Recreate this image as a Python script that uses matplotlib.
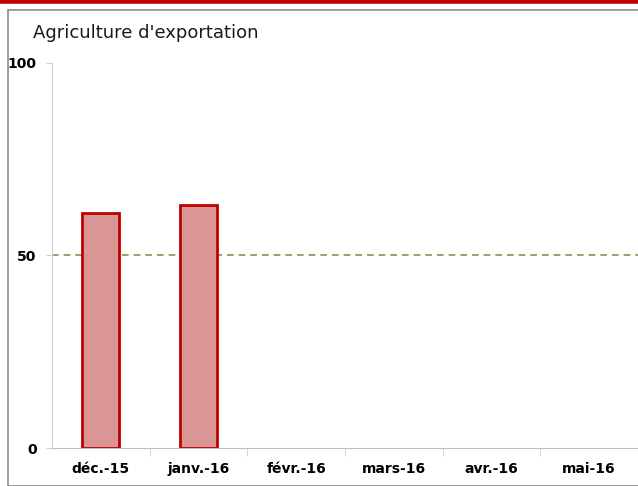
import matplotlib.pyplot as plt
from matplotlib.patches import Rectangle
from matplotlib.lines import Line2D

months = ["déc.-15", "janv.-16", "févr.-16", "mars-16", "avr.-16", "mai-16"]
values = [61, 63]
threshold = 50
yticks = [0, 50, 100]

fig = plt.figure(figsize=(6.38, 4.86), dpi=100)

# red band on top + grey frame
fig.add_artist(Line2D([0, 1], [0.997, 0.997], color="#C00000", lw=4, transform=fig.transFigure))
fig.add_artist(Rectangle((8 / 638, 0), 1, 1 - 10 / 486, fill=False, edgecolor="#8c8c8c",
                         lw=1.2, transform=fig.transFigure))

ax = fig.add_axes([52 / 638, 38 / 486, 1 - 52 / 638, (448 - 63) / 486])
x = list(range(len(months)))
ax.bar(x[:len(values)], values, width=0.38, color="#D99694", edgecolor="#C00000", lw=2, zorder=3)
ax.axhline(threshold, color="#948A54", ls=(0, (4, 3)), lw=1.2, zorder=2)

ax.set_xlim(-0.5, len(months) - 0.5)
ax.set_ylim(0, 100)
ax.set_yticks(yticks)
ax.set_yticklabels([str(v) for v in yticks], fontsize=10, fontweight="bold")
ax.set_xticks(x)
ax.set_xticklabels(months, fontsize=10, fontweight="bold")
ax.set_xticks([i + 0.5 for i in x[:-1]], minor=True)
ax.tick_params(axis="x", which="major", length=0, pad=10)
ax.tick_params(axis="x", which="minor", length=6, color="#d0d0d0", direction="out")
ax.tick_params(axis="y", length=4, color="#d0d0d0", pad=7)

for s in ["top", "right"]:
    ax.spines[s].set_visible(False)
ax.spines["left"].set_color("#d0d0d0")
ax.spines["bottom"].set_color("#bfbfbf")

fig.text(33 / 638, 1 - 33 / 486, "Agriculture d'exportation", fontsize=13,
         va="center", ha="left", color="#1a1a1a")

fig.savefig("out.png", dpi=100)
